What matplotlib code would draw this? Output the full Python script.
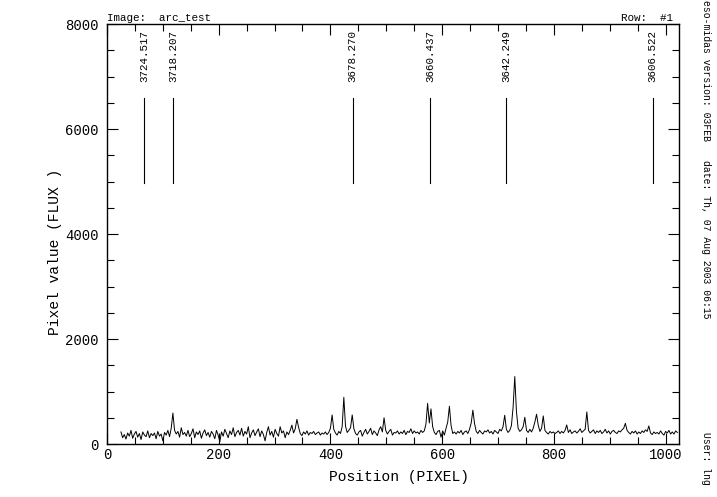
import matplotlib
matplotlib.use('Agg')
import matplotlib.pyplot as plt
from matplotlib.ticker import MultipleLocator
import numpy as np

# spectrum row, one value every 3 pixels starting at pixel 25
start_pixel = 25
pixel_step = 3
flux = [
    230, 120, 180, 95, 210, 150, 260, 110, 190, 240, 130, 200, 85, 230, 170, 140, 250, 120, 200, 160,
    210, 100, 240, 150, 190, 60, 220, 170, 260, 140, 300, 590, 260, 190, 240, 130, 310, 180, 220, 150,
    260, 140, 200, 290, 120, 230, 180, 250, 110, 210, 270, 160, 220, 130, 240, 190, 100, 260, 170, 45,
    230, 150, 280, 200, 120, 250, 180, 310, 140, 220, 260, 170, 300, 150, 240, 190, 330, 120, 210, 270,
    160, 230, 290, 140, 250, 180, 60, 220, 330, 170, 240, 130, 280, 200, 150, 330, 210, 250, 120, 230,
    180, 260, 360, 210, 290, 470, 320, 200, 160, 230, 190, 250, 170, 220, 200, 240, 180, 210, 230, 170,
    210, 190, 230, 180, 220, 300, 554, 280, 210, 170, 240, 200, 330, 890, 340, 220, 260, 310, 554, 290,
    200, 170, 230, 260, 150, 220, 280, 190, 240, 300, 180, 250, 210, 160, 270, 330, 230, 500, 260, 190,
    240, 280, 170, 220, 210, 250, 190, 230, 200, 260, 180, 240, 220, 290, 200, 250, 210, 230, 190, 260,
    220, 250, 380, 775, 400, 670, 330, 220, 180, 240, 260, 130, 250, 170, 300, 420, 720, 350, 200, 230,
    190, 240, 210, 260, 180, 230, 250, 200, 280, 400, 645, 390, 240, 200, 260, 220, 190, 250, 230, 270,
    210, 240, 190, 260, 230, 200, 280, 250, 330, 548, 280, 220, 260, 350, 700, 1285, 620, 300, 240, 270,
    330, 510, 260, 220, 280, 230, 300, 420, 567, 360, 240, 300, 535, 260, 220, 190, 240, 210, 230, 200,
    220, 250, 200, 240, 210, 260, 363, 220, 270, 200, 230, 250, 210, 240, 290, 220, 250, 280, 611, 260,
    210, 240, 270, 200, 250, 220, 260, 200, 230, 280, 210, 250, 190, 240, 260, 220, 200, 250, 230, 270,
    300, 395, 260, 220, 190, 240, 210, 250, 190, 230, 200, 250, 220, 270, 240, 344, 210, 180, 230, 200,
    220, 190, 250, 200, 170, 240, 210, 260, 190, 230, 190, 250, 220,
]

# identified lines: position (pixel) and wavelength label
line_pos = [67, 119, 440, 578, 715, 977]
line_wave = ['3724.517', '3718.207', '3678.270', '3660.437', '3642.249', '3606.522']

mono = 'Liberation Mono'

fig = plt.figure(figsize=(7.17, 4.97), dpi=100)
ax = fig.add_axes([0.1492, 0.1066, 0.7978, 0.8451])

x = start_pixel + pixel_step * np.arange(len(flux))
ax.plot(x, flux, color='black', linewidth=0.7)

# line identifications
for p, w in zip(line_pos, line_wave):
    ax.plot([p, p], [4980, 6600], color='black', linewidth=0.8)
    ax.text(p, 6900, w, rotation=90, ha='center', va='bottom',
            fontsize=7.8, family=mono)

ax.set_xlim(0, 1024)
ax.set_ylim(0, 8000)
ax.xaxis.set_major_locator(MultipleLocator(200))
ax.xaxis.set_minor_locator(MultipleLocator(50))
ax.yaxis.set_major_locator(MultipleLocator(2000))
ax.yaxis.set_minor_locator(MultipleLocator(500))
ax.tick_params(which='both', direction='in', top=True, right=True, width=0.8)
ax.tick_params(which='major', length=8, labelsize=10, pad=3)
ax.tick_params(which='minor', length=5)
ax.tick_params(axis='y', which='major', pad=6)
for lab in ax.get_xticklabels() + ax.get_yticklabels():
    lab.set_family(mono)
for s in ax.spines.values():
    s.set_linewidth(1.0)

ax.set_xlabel('Position (PIXEL)', fontsize=10.5, family=mono)
ax.set_ylabel('Pixel value (FLUX )', fontsize=10.5, family=mono)
ax.xaxis.set_label_coords(0.51, -0.062)
ax.yaxis.set_label_coords(-0.078, 0.457)

# header and side info
ax.text(0, 1.003, 'Image:  arc_test', transform=ax.transAxes, ha='left', va='bottom',
        fontsize=7.8, family=mono)
ax.text(0.99, 1.003, 'Row:  #1', transform=ax.transAxes, ha='right', va='bottom',
        fontsize=7.8, family=mono)
fig.text(0.984, 1.0, 'eso-midas version: 03FEB', rotation=-90, ha='center', va='top',
         fontsize=7.0, family=mono)
fig.text(0.984, 0.678, 'date: Th, 07 Aug 2003 06:15', rotation=-90, ha='center', va='top',
         fontsize=7.0, family=mono)
fig.text(0.984, 0.130, 'User: lng', rotation=-90, ha='center', va='top',
         fontsize=7.0, family=mono)

fig.savefig('out.png', dpi=100)
